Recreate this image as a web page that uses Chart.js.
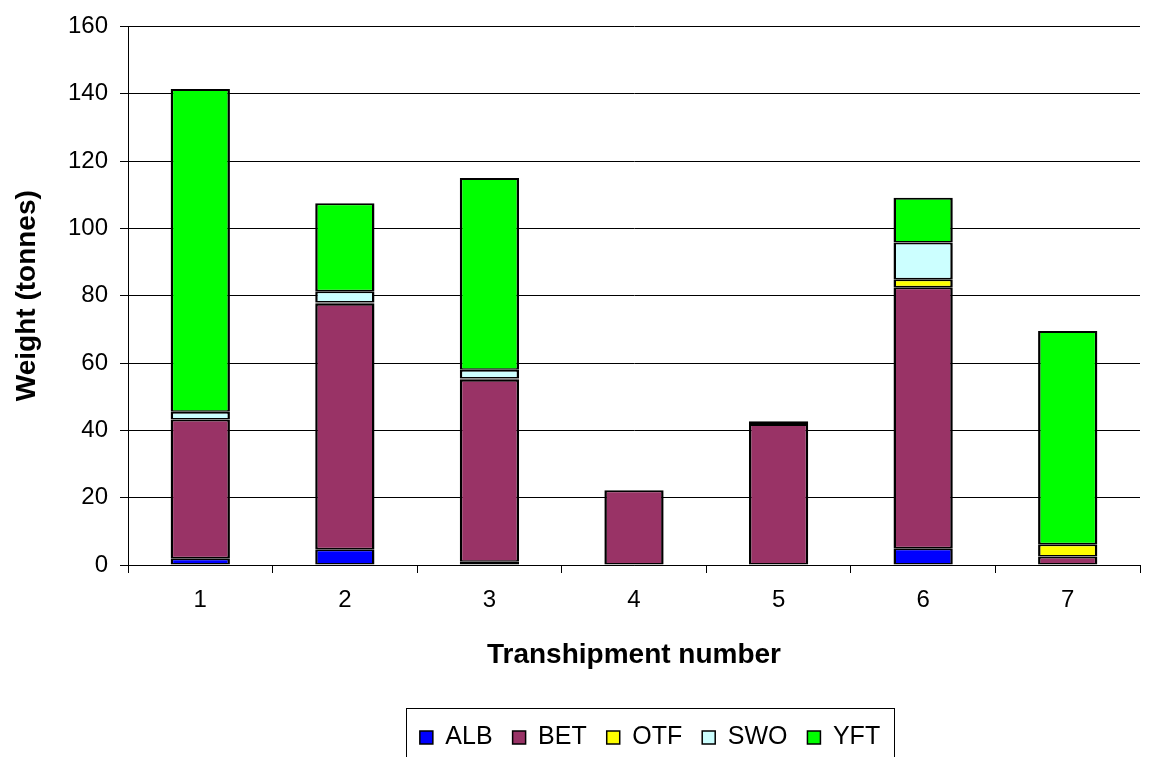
<!DOCTYPE html>
<html>
<head>
<meta charset="utf-8">
<script src="https://cdn.jsdelivr.net/npm/chart.js@4"></script>
<style>
    html, body { margin: 0; padding: 0; background: #fff; overflow: hidden; }
    #wrap { width: 1150px; height: 757px; overflow: hidden; }
    #box { width: 1150px; height: 760px; }
</style>
</head>
<body>
<div id="wrap"><div id="box"><canvas id="catchChart"></canvas></div></div>
<script>
// transhipment catch by species (tonnes)
const categories = ['1', '2', '3', '4', '5', '6', '7'];
const albValues = [2.0, 4.7, 1.0, null, null, 5.0, null];
const betValues = [41.2, 72.9, 54.0, 22.2, 41.9, 77.5, 2.5];
const otfValues = [null, 0.4, 0.4, null, null, 2.4, 3.7];
const swoValues = [2.3, 3.3, 2.6, null, null, 10.9, null];
const yftValues = [95.9, 26.2, 57.0, null, 0.8, 13.3, 63.3];
const yTicks = [0, 20, 40, 60, 80, 100, 120, 140, 160];

const FONT = 'Liberation Sans, Arial, sans-serif';
const LEGEND_PAD = 20;

function series(label, data, color) {
    return {
        label: label,
        data: data,
        backgroundColor: color,
        borderColor: '#000000',
        borderWidth: { top: 2, bottom: 1.5, left: 2.5, right: 2.5 },
        borderSkipped: false,
        categoryPercentage: 1,
        barPercentage: 0.41
    };
}

// box round the legend, like the spreadsheet one
const legendFrame = {
    id: 'legendFrame',
    afterLayout(chart) {
        const lg = chart.legend;
        lg.left += 16;
        lg.right += 16;
    },
    afterDraw(chart) {
        const lg = chart.legend;
        if (!lg || !lg.lineWidths) return;
        const rowW = lg.lineWidths[0];
        const start = (lg.left + LEGEND_PAD + lg.right - rowW) / 2;
        const x0 = Math.round(start - 14) + 0.5;
        const x1 = Math.round(start + rowW - LEGEND_PAD + 14) + 0.5;
        const ctx = chart.ctx;
        ctx.save();
        ctx.strokeStyle = '#000';
        ctx.lineWidth = 1;
        ctx.strokeRect(x0, 708.5, x1 - x0, 80);
        ctx.restore();
    }
};

new Chart(document.getElementById('catchChart'), {
    type: 'bar',
    data: {
        labels: categories,
        datasets: [
            series('ALB', albValues, '#0000FF'),
            series('BET', betValues, '#993366'),
            series('OTF', otfValues, '#FFFF00'),
            series('SWO', swoValues, '#CCFFFF'),
            series('YFT', yftValues, '#00FF00')
        ]
    },
    options: {
        responsive: true,
        maintainAspectRatio: false,
        animation: false,
        layout: { padding: { top: 18, right: 10, left: 0, bottom: 0 } },
        plugins: {
            tooltip: { enabled: false },
            legend: {
                position: 'bottom',
                fullSize: false,
                labels: {
                    boxWidth: 13,
                    boxHeight: 13,
                    padding: LEGEND_PAD,
                    color: '#000',
                    font: { family: FONT, size: 25 },
                    generateLabels: chart => {
                        const items = Chart.defaults.plugins.legend.labels.generateLabels(chart);
                        items.forEach(it => { it.lineWidth = 1.5; });
                        return items;
                    }
                }
            }
        },
        scales: {
            x: {
                stacked: true,
                afterFit: s => { s.height = 140; },
                border: { color: '#000', width: 1 },
                grid: { drawOnChartArea: false, offset: true, tickLength: 8, tickColor: '#000' },
                ticks: { color: '#000', padding: 13, font: { family: FONT, size: 24 } },
                title: {
                    display: true,
                    text: 'Transhipment number',
                    color: '#000',
                    padding: { top: 10, bottom: 33 },
                    font: { family: FONT, size: 28, weight: 'bold' }
                }
            },
            y: {
                stacked: true,
                min: 0,
                max: 160,
                afterFit: s => { s.width = 128; },
                afterBuildTicks: s => { s.ticks = yTicks.map(v => ({ value: v })); },
                border: { color: '#000', width: 1 },
                grid: { color: '#000', lineWidth: 1, tickLength: 8, tickColor: '#000' },
                ticks: { color: '#000', padding: 12, font: { family: FONT, size: 24 } },
                title: {
                    display: true,
                    text: 'Weight (tonnes)',
                    color: '#000',
                    padding: { top: 10, bottom: 0 },
                    font: { family: FONT, size: 28, weight: 'bold' }
                }
            }
        }
    },
    plugins: [legendFrame]
});
</script>
</body>
</html>
